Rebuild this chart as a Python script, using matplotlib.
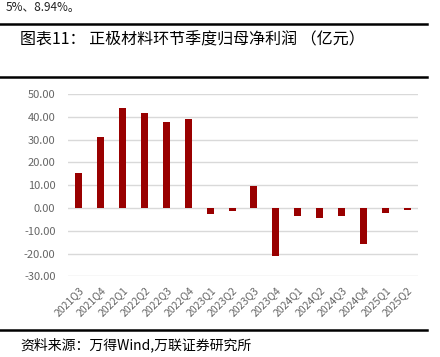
import matplotlib
matplotlib.use('Agg')
import matplotlib.pyplot as plt
import numpy as np

plt.rcParams['font.family'] = ['Noto Sans CJK SC', 'DejaVu Sans']
plt.rcParams['axes.unicode_minus'] = False

# quarterly net profit attributable to parent (100m CNY)
quarters = ['2021Q3', '2021Q4', '2022Q1', '2022Q2', '2022Q3', '2022Q4',
            '2023Q1', '2023Q2', '2023Q3', '2023Q4', '2024Q1', '2024Q2',
            '2024Q3', '2024Q4', '2025Q1', '2025Q2']
profit = [15.2, 31.3, 43.7, 41.5, 37.6, 38.9,
          -2.8, -1.2, 9.6, -20.9, -3.6, -4.5,
          -3.6, -15.6, -2.3, -0.7]
yticks = [-30, -20, -10, 0, 10, 20, 30, 40, 50]

fig = plt.figure(figsize=(4.4, 3.57), dpi=100)

# header / footer text and rules
fig.text(0.012, 0.998, '5%、8.94%。', fontsize=8.5, va='top', color='#222222')
fig.add_artist(plt.Line2D([0, 427 / 440], [1 - 24 / 357] * 2, color='black', lw=1.8))
fig.text(20 / 440, 1 - 40 / 357, '图表11： 正极材料环节季度归母净利润 （亿元）',
         fontsize=11.5, va='center', color='black')
fig.add_artist(plt.Line2D([0, 427 / 440], [1 - 77 / 357] * 2, color='black', lw=1.8))
fig.add_artist(plt.Line2D([0, 427 / 440], [1 - 330 / 357] * 2, color='black', lw=1.8))
fig.text(20 / 440, 1 - 345 / 357, '资料来源：万得Wind,万联证券研究所',
         fontsize=10, va='center', color='black', style='italic')

ax = fig.add_axes([68 / 440, 1 - 276.4 / 357, 350 / 440, 182.4 / 357])
x = np.arange(len(quarters))
ax.bar(x, profit, width=0.32, color='#990000', zorder=3)
ax.set_xlim(-0.5, len(quarters) - 0.5)
ax.set_ylim(-30, 50)
ax.set_yticks(yticks)
ax.set_yticklabels(['%.2f' % v for v in yticks])
ax.yaxis.grid(True, color='#d9d9d9', lw=1)
ax.set_axisbelow(True)
for s in ax.spines.values():
    s.set_visible(False)
ax.tick_params(axis='both', length=0, colors='#666666', labelsize=8)
ax.tick_params(axis='y', pad=9)
ax.tick_params(axis='x', pad=6)
ax.set_xticks(x)
ax.set_xticklabels(quarters, rotation=45, ha='right', rotation_mode='anchor', fontsize=7.5)

fig.savefig('out.png', dpi=100)
